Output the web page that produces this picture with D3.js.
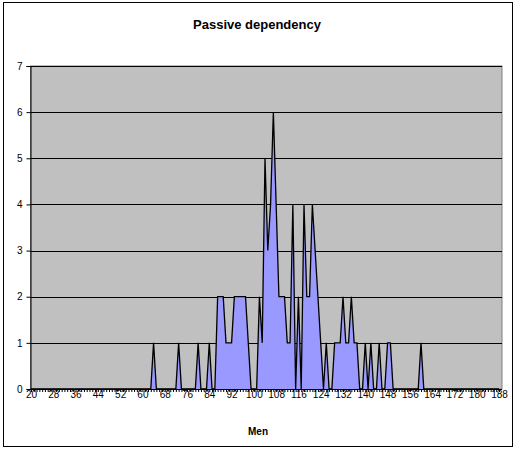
<!DOCTYPE html>
<html>
<head>
<meta charset="utf-8">
<script src="https://cdn.jsdelivr.net/npm/d3@7"></script>
<style>
  body { margin: 0; background: #fff; }
  svg text { font-family: Arial, "Liberation Sans", sans-serif; fill: #000; }
</style>
</head>
<body>
<svg id="chart" width="516" height="449"></svg>
<script>
// Chart texts
const chartTitle = "Passive dependency";
const xAxisTitle = "Men";

// Scores on the category axis (20 .. 188)
const scores = d3.range(20, 189);

// Number of men at each score, from 20 to 188
const counts = [
  0,0,0,0,0,0,0,0,0,0,      // 20-29
  0,0,0,0,0,0,0,0,0,0,      // 30-39
  0,0,0,0,0,0,0,0,0,0,      // 40-49
  0,0,0,0,0,0,0,0,0,0,      // 50-59
  0,0,0,0,1,0,0,0,0,0,      // 60-69
  0,0,0,1,0,0,0,0,0,0,      // 70-79
  1,0,0,0,1,0,0,2,2,2,      // 80-89
  1,1,1,2,2,2,2,2,1,0,      // 90-99
  0,0,2,1,5,3,4,6,4,2,      // 100-109
  2,2,1,1,4,0,2,0,4,2,      // 110-119
  2,4,3,2,1,0,1,0,0,1,      // 120-129
  1,1,2,1,1,2,1,1,0,0,      // 130-139
  1,0,1,0,0,1,0,0,1,1,      // 140-149
  0,0,0,0,0,0,0,0,0,0,      // 150-159
  1,0,0,0,0,0,0,0,0,0,      // 160-169
  0,0,0,0,0,0,0,0,0,0,      // 170-179
  0,0,0,0,0,0,0,0,0         // 180-188
];

// Labelled scores and value ticks
const xTickLabels = d3.range(20, 189, 8);
const yTicks = [0, 1, 2, 3, 4, 5, 6, 7];

const data = scores.map((s, i) => ({ score: s, count: counts[i] }));

const svg = d3.select("#chart");

// chart frame
svg.append("rect")
  .attr("x", 3.5).attr("y", 2.5)
  .attr("width", 509).attr("height", 444)
  .attr("fill", "#fff").attr("stroke", "#000").attr("stroke-width", 1);

const plot = { left: 30.5, right: 502, top: 66, bottom: 389 };

const x = d3.scaleLinear().domain([20, 188]).range([31, 499]);
const y = d3.scaleLinear().domain([0, 7]).range([plot.bottom, plot.top]);

// plot background
svg.append("rect")
  .attr("x", plot.left).attr("y", plot.top)
  .attr("width", plot.right - plot.left).attr("height", plot.bottom - plot.top)
  .attr("fill", "#c0c0c0").attr("stroke", "#808080").attr("stroke-width", 1);

// horizontal gridlines
svg.append("g")
  .selectAll("line")
  .data(yTicks.filter(d => d > 0))
  .join("line")
  .attr("x1", plot.left).attr("x2", plot.right)
  .attr("y1", d => Math.round(y(d)) + 0.5).attr("y2", d => Math.round(y(d)) + 0.5)
  .attr("stroke", "#000").attr("stroke-width", 1);

// filled area and its outline
const area = d3.area()
  .x(d => x(d.score))
  .y0(y(0))
  .y1(d => y(d.count));
const line = d3.line()
  .x(d => x(d.score))
  .y(d => y(d.count));

svg.append("path")
  .datum(data)
  .attr("d", area)
  .attr("fill", "#9999ff");

svg.append("path")
  .datum(data)
  .attr("d", line)
  .attr("fill", "none")
  .attr("stroke", "#000")
  .attr("stroke-width", 1.3)
  .attr("stroke-linejoin", "miter");

// y axis
const yAxis = d3.axisLeft(y)
  .tickValues(yTicks)
  .tickSize(4)
  .tickPadding(4)
  .tickFormat(d3.format("d"));
const gy = svg.append("g")
  .attr("transform", `translate(${plot.left},0)`)
  .call(yAxis);
gy.selectAll("text").style("font-size", "10px");
gy.selectAll("line, path").attr("stroke", "#000");

// x axis: a minor tick at every score, labels every 8
const xAxis = d3.axisBottom(x)
  .tickValues(scores)
  .tickSize(3)
  .tickSizeOuter(0)
  .tickPadding(0)
  .tickFormat(d => xTickLabels.includes(d) ? d : "");
const gx = svg.append("g")
  .attr("transform", `translate(0,${plot.bottom})`)
  .call(xAxis);
gx.select(".domain").attr("d", `M${plot.left},0.5H${plot.right}`);
gx.selectAll("line, path").attr("stroke", "#000");
gx.selectAll("text").style("font-size", "10px").attr("dy", "0.71em").attr("y", 2);

// titles
svg.append("text")
  .attr("x", 257).attr("y", 29)
  .attr("text-anchor", "middle")
  .style("font-size", "13px").style("font-weight", "bold")
  .text(chartTitle);

svg.append("text")
  .attr("x", 258).attr("y", 435)
  .attr("text-anchor", "middle")
  .style("font-size", "10px").style("font-weight", "bold")
  .text(xAxisTitle);
</script>
</body>
</html>
